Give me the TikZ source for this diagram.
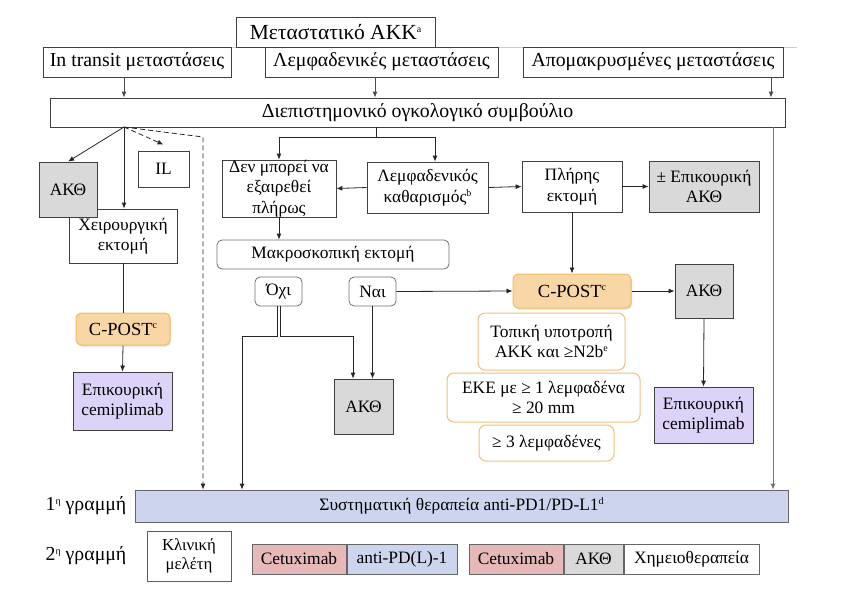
\documentclass[tikz,border=0pt]{standalone}
\usepackage{fontspec}
\setmainfont{Liberation Serif}
\usetikzlibrary{arrows.meta,shadows}
\definecolor{gfill}{HTML}{D9D9D9}
\definecolor{bord}{HTML}{404040}
\definecolor{ofill}{HTML}{F8D6A6}
\definecolor{obord}{HTML}{EFC058}
\definecolor{oline}{HTML}{F2BE7C}
\definecolor{pfill}{HTML}{DDD2F7}
\definecolor{bfill}{HTML}{CDD5EE}
\definecolor{rfill}{HTML}{E6B9B8}
\definecolor{kbord}{HTML}{3A5FA8}
\newcommand{\supx}[1]{\raisebox{0.75ex}{\fontsize{10}{10}\selectfont #1}}
\begin{document}
\begin{tikzpicture}[x=1pt,y=-1pt,
  every node/.style={inner sep=0pt, align=center, text=black, font=\fontsize{17.4}{20.5}\selectfont},
  sz/.style 2 args={minimum width=#1, minimum height=#2},
  big/.style={font=\fontsize{19.8}{22}\selectfont},
  box/.style={draw=bord, line width=0.8pt, fill=white, rectangle},
  gbox/.style={box, fill=gfill},
  pbox/.style={box, fill=pfill},
  rbox/.style={draw=bord!75, line width=0.8pt, fill=white, rounded corners=5pt},
  cpost/.style={draw=obord, line width=1pt, fill=ofill, rounded corners=5pt, font=\fontsize{18.5}{20}\selectfont, drop shadow={shadow xshift=1pt, shadow yshift=-1.5pt, opacity=0.25}},
  obox/.style={draw=oline, line width=1pt, fill=white, rounded corners=7pt},
  conn/.style={line width=0.8pt, draw=black!85},
  arr/.style={conn, -{Latex[length=6pt,width=5pt]}},
  tarr/.style={arr, draw=black!70},
  darr/.style={arr, dashed, dash pattern=on 5pt off 3pt},
]
\useasboundingbox (0,0) rectangle (841,595);
% faint line under the title
\draw[black!20, line width=0.8pt] (231,47) -- (797,47);
% top
\node[box, font=\fontsize{21.5}{24}\selectfont, sz={199}{30}] (title) at (335.5,32) {Μεταστατικό ΑΚΚ\supx{a}};
\node[box, big, sz={188}{30}] (it) at (137,62) {In transit μεταστάσεις};
\node[box, big, sz={233}{30}] (lm) at (381.5,62) {Λεμφαδενικές μεταστάσεις};
\node[box, big, sz={260}{30}] (ap) at (653,62) {Απομακρυσμένες μεταστάσεις};
\node[box, big, sz={735}{29}] (mdt) at (417.5,112.5) {Διεπιστημονικό ογκολογικό συμβούλιο};
% left branch
\node[box, sz={108}{54}] (surg) at (123,236) {Χειρουργική\\εκτομή};
\node[gbox, sz={58}{55}] (akL) at (68,189.5) {ΑΚΘ};
\node[box, sz={51}{36}] (il) at (163.5,169) {IL};
\node[cpost, sz={94}{32}] (cpL) at (123,329) {C-POST\supx{c}};
\node[pbox, sz={99}{58}] (cemL) at (122.5,401) {Επικουρική\\cemiplimab};
% middle branch
\node[box, sz={114}{57}] (dm) at (279,188.5) {Δεν μπορεί να\\εξαιρεθεί\\πλήρως};
\node[box, sz={121}{51}] (lk) at (427.5,187.5) {Λεμφαδενικός\\καθαρισμός\supx{b}};
\node[box, sz={100}{51}] (pe) at (572,186.5) {Πλήρης\\εκτομή};
\node[gbox, sz={110}{51}] (adj) at (704,186.5) {± Επικουρική\\ΑΚΘ};
\node[rbox, sz={232}{29}] (macro) at (333,254.5) {Μακροσκοπική εκτομή};
\node[rbox, sz={47}{29}] (no) at (278.5,291.5) {Όχι};
\node[rbox, sz={47}{29}] (yes) at (372.5,291.5) {Ναι};
\node[cpost, sz={118}{34}] (cpM) at (572,291) {C-POST\supx{c}};
\node[gbox, sz={58}{54}] (akR) at (704,291) {ΑΚΘ};
\node[gbox, sz={59}{55}] (akM) at (363.5,406.5) {ΑΚΘ};
\node[pbox, sz={99}{56}] (cemR) at (703.5,415) {Επικουρική\\cemiplimab};
\node[obox, sz={147}{57}] (loc) at (551.5,341.5) {Τοπική υποτροπή\\ΑΚΚ και ≥N2b\supx{e}};
\node[obox, sz={193}{49}] (eke) at (543.5,397.5) {ΕΚΕ με ≥ 1 λεμφαδένα\\≥ 20 mm};
\node[obox, sz={135}{36}] (ln3) at (546.5,443) {≥ 3 λεμφαδένες};
% bottom
\node[box, draw=bord!80, fill=bfill, sz={653}{32}] (line1) at (461.5,506) {Συστηματική θεραπεία anti-PD1/PD-L1\supx{d}};
\node[big] (lab1) at (86,506) {1\supx{η} γραμμή};
\node[big] (lab2) at (86,556) {2\supx{η} γραμμή};
\node[box, draw=kbord, sz={84}{50}, font=\fontsize{16.8}{19.5}\selectfont] (klin) at (189,556) {Κλινική\\μελέτη};
\node[box, draw=bord!80, fill=rfill, sz={94}{30}] (cet1) at (299,559) {Cetuximab};
\node[box, draw=bord!80, fill=bfill, sz={110}{30}] (apd) at (402,559) {anti-PD(L)-1};
\node[box, draw=bord!80, fill=rfill, sz={94}{30}] (cet2) at (516,559) {Cetuximab};
\node[box, draw=bord!80, fill=gfill, sz={59}{30}] (ak2) at (593.5,559) {ΑΚΘ};
\node[box, draw=bord!80, sz={135}{30}] (chemo) at (691.5,559) {Χημειοθεραπεία};
% coordinates
\coordinate (hubL) at (124,127);
\coordinate (xl) at (375,0);
\coordinate (xa) at (771,0);
\coordinate (xr) at (773,0);
\coordinate (hubM) at (376,137);
\coordinate (lkIn) at (435,0);
\coordinate (dk) at (203,137);
\coordinate (nojL) at (242,336);
\coordinate (nojR) at (353,336);
% connectors top
\draw[tarr] (hubL |- it.south) -- (hubL |- mdt.north);
\draw[tarr] (xl |- lm.south) -- (xl |- mdt.north);
\draw[tarr] (xa |- ap.south) -- (xa |- mdt.north);
\draw[arr, draw=black!55] (xr |- mdt.south) -- (xr |- line1.north);
% left
\draw[arr] (hubL) -- (akL.north);
\draw[arr] (hubL) -- (hubL |- surg.north);
\draw[darr] (hubL) -- ([yshift=6]il.north);
\draw[darr] (hubL) -- (dk) -- (dk |- line1.north);
\draw[conn] (surg.south) -- (cpL.north);
\draw[arr] (cpL.south) -- (cemL.north);
% middle
\draw[conn] (hubM |- mdt.south) -- (hubM);
\draw[arr] (hubM) -| (dm.north);
\draw[arr] (hubM) -| (lkIn |- lk.north);
\draw[arr] (lk.west) -- (dm.east);
\draw[arr] (lk.east) -- (pe.west);
\draw[arr] (pe.east) -- (adj.west);
\draw[arr] (pe.south) -- (cpM.north);
\draw[arr] (dm.south) -- (dm.south |- macro.north);
\draw[arr] ([xshift=-1.5]no.south) |- (nojL) -- (nojL |- line1.north);
\draw[arr] ([xshift=1.5]no.south) |- (nojR) -- (nojR |- akM.north);
\draw[arr] (yes.south) -- (yes.south |- akM.north);
\draw[arr] (yes.east) -- (cpM.west);
\draw[arr] (cpM.east) -- (akR.west);
\draw[arr] (akR.south) -- (cemR.north);
\end{tikzpicture}
\end{document}
